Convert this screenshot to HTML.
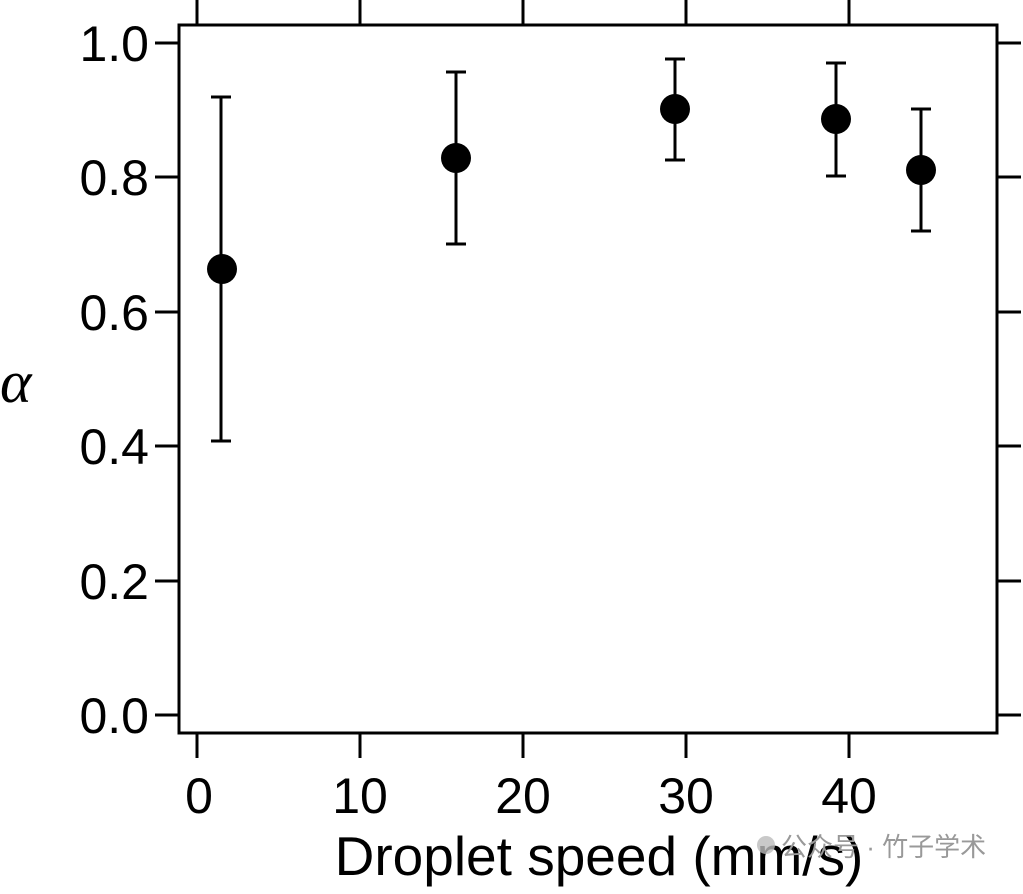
<!DOCTYPE html>
<html><head><meta charset="utf-8"><style>body{margin:0;background:#fff}</style></head><body>
<svg width="1023" height="889" xmlns="http://www.w3.org/2000/svg" font-family="Liberation Sans, sans-serif">
<rect x="179" y="25" width="818" height="708" fill="none" stroke="#000" stroke-width="3"/>
<g stroke="#000" stroke-width="3">
<line x1="155" y1="43" x2="179" y2="43"/><line x1="155" y1="177" x2="179" y2="177"/><line x1="155" y1="312" x2="179" y2="312"/><line x1="155" y1="446" x2="179" y2="446"/><line x1="155" y1="581" x2="179" y2="581"/><line x1="155" y1="715" x2="179" y2="715"/>
<line x1="997" y1="43" x2="1021" y2="43"/><line x1="997" y1="177" x2="1021" y2="177"/><line x1="997" y1="312" x2="1021" y2="312"/><line x1="997" y1="446" x2="1021" y2="446"/><line x1="997" y1="581" x2="1021" y2="581"/><line x1="997" y1="715" x2="1021" y2="715"/>
<line x1="197" y1="733" x2="197" y2="758"/><line x1="360" y1="733" x2="360" y2="758"/><line x1="523" y1="733" x2="523" y2="758"/><line x1="686" y1="733" x2="686" y2="758"/><line x1="849" y1="733" x2="849" y2="758"/>
<line x1="197" y1="0" x2="197" y2="25"/><line x1="360" y1="0" x2="360" y2="25"/><line x1="523" y1="0" x2="523" y2="25"/><line x1="686" y1="0" x2="686" y2="25"/><line x1="849" y1="0" x2="849" y2="25"/>
</g>
<g font-size="50" text-anchor="end" fill="#000">
<text x="149" y="61">1.0</text><text x="149" y="195">0.8</text><text x="149" y="330">0.6</text><text x="149" y="464">0.4</text><text x="149" y="599">0.2</text><text x="149" y="733">0.0</text>
</g>
<g font-size="50" text-anchor="middle" fill="#000">
<text x="199" y="813">0</text><text x="360" y="813">10</text><text x="523" y="813">20</text><text x="686" y="813">30</text><text x="849" y="813">40</text>
</g>
<text x="599" y="875" font-size="55" text-anchor="middle">Droplet speed (mm/s)</text>
<text x="0" y="402" font-size="60" font-style="italic" font-family="Liberation Serif, serif">α</text>
<circle cx="766" cy="845" r="9" fill="#bbb" opacity="0.8"/>
<text x="781" y="856" font-size="26" fill="#999" font-family="Liberation Sans, 'Noto Sans CJK SC', sans-serif">公众号 · 竹子学术</text>
<g stroke="#000" stroke-width="3">
<line x1="221" y1="97" x2="221" y2="441"/><line x1="211" y1="97" x2="231" y2="97"/><line x1="211" y1="441" x2="231" y2="441"/>
<line x1="456" y1="72" x2="456" y2="244"/><line x1="446" y1="72" x2="466" y2="72"/><line x1="446" y1="244" x2="466" y2="244"/>
<line x1="675" y1="59" x2="675" y2="160"/><line x1="665" y1="59" x2="685" y2="59"/><line x1="665" y1="160" x2="685" y2="160"/>
<line x1="836" y1="63" x2="836" y2="176"/><line x1="826" y1="63" x2="846" y2="63"/><line x1="826" y1="176" x2="846" y2="176"/>
<line x1="921" y1="109" x2="921" y2="231"/><line x1="911" y1="109" x2="931" y2="109"/><line x1="911" y1="231" x2="931" y2="231"/>
</g>
<g fill="#000">
<circle cx="222" cy="269" r="15"/><circle cx="456" cy="158" r="15"/><circle cx="675" cy="109" r="15"/><circle cx="836" cy="119" r="15"/><circle cx="921" cy="170" r="15"/>
</g>
</svg>
</body></html>
